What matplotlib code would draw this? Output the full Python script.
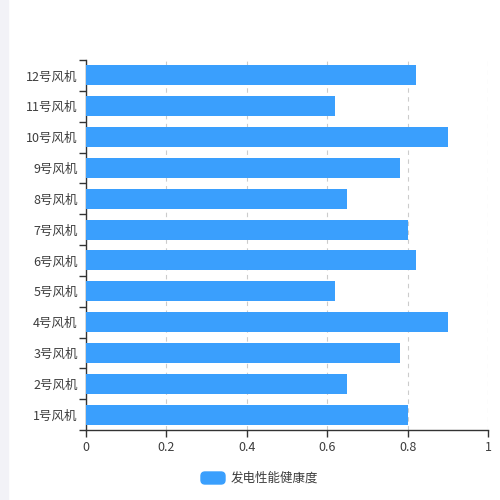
import numpy as np
import matplotlib.pyplot as plt
from matplotlib.patches import FancyBboxPatch, Rectangle

plt.rcParams['font.family'] = ['Noto Sans CJK SC', 'DejaVu Sans']

turbines = ['1号风机', '2号风机', '3号风机', '4号风机', '5号风机', '6号风机',
            '7号风机', '8号风机', '9号风机', '10号风机', '11号风机', '12号风机']
health = [0.8, 0.65, 0.78, 0.9, 0.62, 0.82, 0.8, 0.65, 0.78, 0.9, 0.62, 0.82]
x_ticks = [0, 0.2, 0.4, 0.6, 0.8, 1]
x_labels = ['0', '0.2', '0.4', '0.6', '0.8', '1']
series_name = '发电性能健康度'

BAR_COLOR = '#3a9ffd'
TEXT_COLOR = '#3d3d3d'

fig = plt.figure(figsize=(5, 5), dpi=100)
fig.patches.append(Rectangle((0, 0), 8 / 500, 1, transform=fig.transFigure,
                             color='#f2f2f7', zorder=0))

ax = fig.add_axes([86 / 500, 70 / 500, 402 / 500, 370 / 500])
y = np.arange(len(turbines))
ax.barh(y, health, height=0.65, color=BAR_COLOR, zorder=3)

ax.set_xlim(0, 1)
ax.set_ylim(-0.5, len(turbines) - 0.5)
ax.set_xticks(x_ticks)
ax.set_xticklabels(x_labels)
ax.set_yticks(y)
ax.set_yticklabels(turbines)
ax.set_yticks(np.arange(-0.5, len(turbines)), minor=True)

ax.tick_params(axis='y', which='major', length=0, pad=6, labelsize=9, labelcolor=TEXT_COLOR)
ax.tick_params(axis='y', which='minor', length=5, width=1, color='#333333')
ax.tick_params(axis='x', which='major', length=5, width=1, color='#333333',
               pad=3, labelsize=9, labelcolor=TEXT_COLOR)

ax.grid(axis='x', linestyle=(0, (4, 4)), color='#cccccc', linewidth=0.8, zorder=0)
for side in ['top', 'right']:
    ax.spines[side].set_visible(False)
for side in ['left', 'bottom']:
    ax.spines[side].set_color('#333333')
    ax.spines[side].set_linewidth(1)

# legend
fig.patches.append(FancyBboxPatch((201 / 500, 16 / 500), 24 / 500, 12 / 500,
                                  boxstyle='round,pad=0,rounding_size=0.008',
                                  transform=fig.transFigure, color=BAR_COLOR))
fig.text(231 / 500, 22 / 500, series_name, fontsize=9, color=TEXT_COLOR,
         va='center', ha='left')

fig.savefig('out.png', dpi=100)
